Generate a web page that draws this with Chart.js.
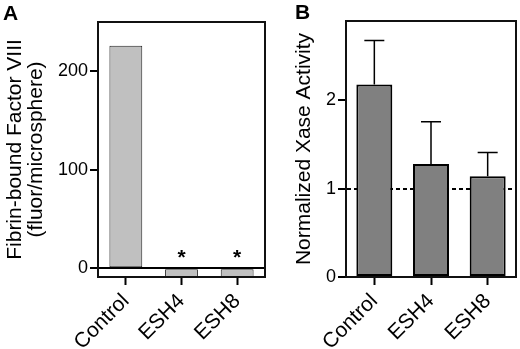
<!DOCTYPE html>
<html><head><meta charset="utf-8">
<script src="https://cdn.jsdelivr.net/npm/chart.js@4"></script>
<style>
html,body{margin:0;padding:0;background:#fff;}
#wrap{position:relative;width:520px;height:349px;overflow:hidden;font-family:"Liberation Sans",Arial,sans-serif;}
canvas{position:absolute;top:0;}
#chartA{left:0;}
#chartB{left:262px;}
.lbl{position:absolute;font-weight:bold;font-size:21px;line-height:21px;color:#000;}
</style></head>
<body><div id="wrap">
<canvas id="chartA" width="272" height="349"></canvas>
<canvas id="chartB" width="258" height="349"></canvas>
<div class="lbl" style="left:3px;top:2px">A</div>
<div class="lbl" style="left:295px;top:1px">B</div>
</div>
<script>
// ---- data ----
const categories = ['Control', 'ESH4', 'ESH8'];
const fibrinValues = [226, -9, -9];
const fibrinTicks = [0, 100, 200];
const sigMarks = ['', '*', '*'];
const xaseValues = [2.18, 1.28, 1.14];
const xaseErrors = [0.50, 0.48, 0.27];
const xaseTicks = [0, 1, 2];

Chart.defaults.font.family = '"Liberation Sans", Arial, sans-serif';
Chart.defaults.color = '#000';

const boxPlugin = {
  id: 'box',
  afterDraw(chart) {
    const ctx = chart.ctx;
    const a = chart.chartArea;
    ctx.save();
    ctx.strokeStyle = '#111111';
    ctx.lineWidth = 2;
    ctx.strokeRect(a.left, a.top, a.width, a.height);
    ctx.restore();
  }
};

const markPlugin = {
  id: 'marks',
  afterDatasetsDraw(chart, args, opts) {
    if (!opts.marks) return;
    const {ctx} = chart;
    const y = chart.scales.y;
    const meta = chart.getDatasetMeta(0);
    ctx.save();
    ctx.fillStyle = '#000';
    ctx.font = 'bold 21px "Liberation Sans", Arial, sans-serif';
    ctx.textAlign = 'center';
    ctx.textBaseline = 'middle';
    meta.data.forEach((bar, i) => {
      if (opts.marks[i]) ctx.fillText(opts.marks[i], bar.x, y.getPixelForValue(0) - 10);
    });
    ctx.restore();
  }
};

const errPlugin = {
  id: 'errbars',
  afterDatasetsDraw(chart, args, opts) {
    if (!opts.errors) return;
    const {ctx} = chart;
    const y = chart.scales.y;
    const meta = chart.getDatasetMeta(0);
    const vals = chart.data.datasets[0].data;
    ctx.save();
    ctx.strokeStyle = '#000';
    ctx.lineWidth = 1.5;
    meta.data.forEach((bar, i) => {
      const base = y.getPixelForValue(vals[i]);
      const top = y.getPixelForValue(vals[i] + opts.errors[i]);
      ctx.beginPath();
      ctx.moveTo(bar.x, base);
      ctx.lineTo(bar.x, top);
      ctx.moveTo(bar.x - 10, top);
      ctx.lineTo(bar.x + 10, top);
      ctx.stroke();
    });
    ctx.restore();
  }
};

function xScale(height) {
  return {
    offset: true,
    grid: {display: true, drawOnChartArea: false, offset: false, tickLength: 8, tickWidth: 2, tickColor: '#000', color: '#000'},
    border: {display: true, color: '#000', width: 2},
    ticks: {font: {size: 21}, color: '#000', minRotation: 45, maxRotation: 45, padding: 4},
    afterFit: s => { s.height = height; }
  };
}

new Chart(document.getElementById('chartA'), {
  type: 'bar',
  data: {labels: categories, datasets: [{
    data: fibrinValues, backgroundColor: '#c0c0c0', borderColor: '#222', borderWidth: 1,
    borderSkipped: false, barPercentage: 0.59, categoryPercentage: 1
  }]},
  options: {
    responsive: false, animation: false, devicePixelRatio: 1,
    layout: {padding: {top: 22, right: 7, left: 0, bottom: 0}},
    plugins: {legend: {display: false}, tooltip: {enabled: false}, marks: {marks: sigMarks}},
    scales: {
      x: xScale(72),
      y: {
        min: -9, max: 250,
        afterBuildTicks: s => { s.ticks = fibrinTicks.map(v => ({value: v})); },
        afterFit: s => { s.width = 98; },
        ticks: {font: {size: 18}, color: '#000', padding: 2},
        grid: {color: c => (c.tick && c.tick.value === 0) ? '#000' : 'rgba(0,0,0,0)', lineWidth: 2,
               tickColor: '#000', tickWidth: 2, tickLength: 8},
        border: {display: true, color: '#000', width: 2},
        title: {display: true, text: ['Fibrin-bound Factor VIII', '(fluor/microsphere)'],
                font: {size: 21, lineHeight: 1}, color: '#000', padding: {top: 5, bottom: 0}}
      }
    }
  },
  plugins: [markPlugin, boxPlugin]
});

new Chart(document.getElementById('chartB'), {
  type: 'bar',
  data: {labels: categories, datasets: [{
    data: xaseValues, backgroundColor: '#808080', borderColor: '#000', borderWidth: 2,
    borderSkipped: false, barPercentage: 0.635, categoryPercentage: 1
  }]},
  options: {
    responsive: false, animation: false, devicePixelRatio: 1,
    layout: {padding: {top: 21, right: 4, left: 0, bottom: 0}},
    plugins: {legend: {display: false}, tooltip: {enabled: false}, errbars: {errors: xaseErrors}},
    scales: {
      x: xScale(72),
      y: {
        min: 0, max: 2.9,
        afterBuildTicks: s => { s.ticks = xaseTicks.map(v => ({value: v})); },
        afterFit: s => { s.width = 84; },
        ticks: {font: {size: 18}, color: '#000', padding: 2},
        grid: {color: c => (c.tick && c.tick.value === 1) ? '#000' : 'rgba(0,0,0,0)', lineWidth: 2,
               tickColor: '#000', tickWidth: 2, tickLength: 8},
        border: {display: true, color: '#000', width: 2,
                 dash: c => (c.tick && c.tick.value === 1) ? [4, 3] : []},
        title: {display: true, text: 'Normalized Xase Activity',
                font: {size: 21, lineHeight: 1}, color: '#000', padding: {top: 32, bottom: 0}}
      }
    }
  },
  plugins: [errPlugin, boxPlugin]
});
</script>
</body></html>
